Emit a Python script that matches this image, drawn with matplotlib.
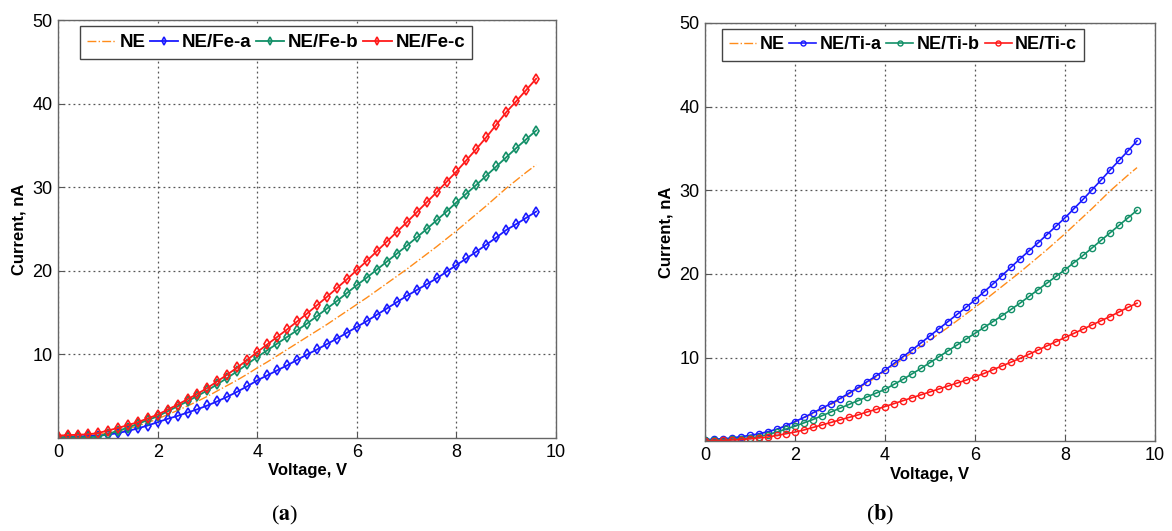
import numpy as np
import matplotlib
matplotlib.use("Agg")
import matplotlib.pyplot as plt

plt.rcParams['font.family'] = ['Liberation Sans', 'DejaVu Sans']
plt.rcParams['mathtext.fontset'] = 'stix'

# voltage steps (V)
voltage = [0.0, 0.2, 0.4, 0.6, 0.8, 1.0, 1.2, 1.4, 1.6, 1.8,
           2.0, 2.2, 2.4, 2.6, 2.8, 3.0, 3.2, 3.4, 3.6, 3.8,
           4.0, 4.2, 4.4, 4.6, 4.8, 5.0, 5.2, 5.4, 5.6, 5.8,
           6.0, 6.2, 6.4, 6.6, 6.8, 7.0, 7.2, 7.4, 7.6, 7.8,
           8.0, 8.2, 8.4, 8.6, 8.8, 9.0, 9.2, 9.4, 9.6]

# current (nA), plain NE sample - same in both panels
ne = [0.1, 0.1, 0.2, 0.3, 0.45, 0.6, 0.85, 1.1, 1.45, 1.85,
      2.3, 2.8, 3.3, 3.85, 4.4, 5.0, 5.65, 6.3, 6.95, 7.65,
      8.4, 9.1, 9.85, 10.6, 11.35, 12.1, 12.85, 13.6, 14.4, 15.2,
      16.0, 16.8, 17.65, 18.5, 19.35, 20.2, 21.1, 22.0, 22.9, 23.85,
      24.8, 25.8, 26.8, 27.8, 28.85, 29.9, 30.85, 31.8, 32.7]

# panel (a)
fe_a = [0.0, 0.2, 0.2, 0.25, 0.3, 0.4, 0.6, 0.85, 1.15, 1.5,
        1.9, 2.3, 2.65, 3.05, 3.45, 3.9, 4.4, 4.95, 5.55, 6.2,
        6.9, 7.5, 8.1, 8.7, 9.35, 10.0, 10.6, 11.25, 11.9, 12.6,
        13.3, 14.0, 14.75, 15.5, 16.25, 17.0, 17.7, 18.4, 19.1, 19.9,
        20.7, 21.5, 22.3, 23.15, 24.0, 24.9, 25.6, 26.35, 27.1]
fe_b = [0.1, 0.1, 0.1, 0.1, 0.15, 0.5, 0.85, 1.25, 1.7, 2.15,
        2.6, 3.2, 3.8, 4.4, 5.05, 5.7, 6.45, 7.2, 8.0, 8.85,
        9.7, 10.5, 11.3, 12.1, 12.9, 13.7, 14.6, 15.5, 16.4, 17.35,
        18.3, 19.2, 20.15, 21.1, 22.05, 23.0, 24.0, 25.0, 26.05, 27.1,
        28.2, 29.25, 30.3, 31.4, 32.5, 33.6, 34.7, 35.75, 36.8]
fe_c = [0.3, 0.35, 0.4, 0.45, 0.6, 0.9, 1.2, 1.55, 1.9, 2.35,
        2.8, 3.4, 4.0, 4.65, 5.3, 6.0, 6.8, 7.6, 8.45, 9.35,
        10.3, 11.2, 12.1, 13.0, 13.95, 14.9, 15.9, 16.9, 17.95, 19.0,
        20.1, 21.2, 22.35, 23.5, 24.65, 25.8, 27.0, 28.2, 29.4, 30.65,
        31.9, 33.25, 34.6, 36.0, 37.5, 39.0, 40.3, 41.65, 43.0]

# panel (b)
ti_a = [0.2, 0.25, 0.3, 0.4, 0.55, 0.7, 0.9, 1.15, 1.45, 1.85,
        2.35, 2.85, 3.4, 3.95, 4.5, 5.1, 5.75, 6.4, 7.1, 7.8,
        8.5, 9.3, 10.1, 10.9, 11.75, 12.6, 13.45, 14.3, 15.15, 16.0,
        16.9, 17.85, 18.8, 19.8, 20.8, 21.8, 22.75, 23.7, 24.7, 25.7,
        26.7, 27.8, 28.9, 30.05, 31.2, 32.4, 33.55, 34.7, 35.9]
ti_b = [0.1, 0.15, 0.2, 0.25, 0.3, 0.4, 0.55, 0.8, 1.1, 1.45,
        1.8, 2.2, 2.6, 3.05, 3.5, 3.95, 4.4, 4.85, 5.3, 5.75,
        6.2, 6.8, 7.4, 8.05, 8.7, 9.4, 10.1, 10.8, 11.5, 12.2,
        12.9, 13.6, 14.3, 15.0, 15.75, 16.5, 17.3, 18.1, 18.9, 19.7,
        20.5, 21.35, 22.2, 23.1, 24.0, 24.9, 25.8, 26.7, 27.6]
ti_c = [0.0, 0.05, 0.1, 0.15, 0.2, 0.3, 0.4, 0.5, 0.7, 0.9,
        1.1, 1.35, 1.65, 1.95, 2.25, 2.55, 2.85, 3.15, 3.5, 3.8,
        4.15, 4.5, 4.85, 5.2, 5.55, 5.9, 6.25, 6.6, 6.95, 7.3,
        7.7, 8.1, 8.55, 9.0, 9.45, 9.9, 10.4, 10.9, 11.4, 11.9,
        12.4, 12.9, 13.4, 13.9, 14.4, 14.9, 15.45, 16.0, 16.5]

orange = '#FF8C1A'
blue = '#1A1AFF'
green = '#139068'
red = '#FF1A1A'

fig = plt.figure(figsize=(11.72, 5.31), dpi=100)
ax1 = fig.add_axes([0.0495, 0.175, 0.425, 0.787])
ax2 = fig.add_axes([0.6015, 0.169, 0.384, 0.788])


def style_axes(ax):
    ax.set_xlim(0, 10)
    ax.set_ylim(0, 50)
    ax.set_xticks([0, 2, 4, 6, 8, 10])
    ax.set_yticks([10, 20, 30, 40, 50])
    ax.grid(True, linestyle=(0, (1.5, 2.5)), color='#555555', linewidth=0.9)
    ax.tick_params(direction='in', length=4, labelsize=13, color='#555555', pad=4)
    for sp in ax.spines.values():
        sp.set_color('#666666')
        sp.set_linewidth(1.0)
    ax.set_xlabel('Voltage, V', fontsize=12, fontweight='bold', labelpad=2)
    ax.set_ylabel('Current, nA', fontsize=12, fontweight='bold', labelpad=4)


# (a) Fe samples
ax1.plot(voltage, ne, color=orange, linestyle='-.', linewidth=1.0, label='NE')
ax1.plot(voltage, fe_a, color=blue, marker='d', markersize=5, markerfacecolor='none',
         markeredgewidth=1.2, linewidth=1.3, label='NE/Fe-a')
ax1.plot(voltage, fe_b, color=green, marker='d', markersize=5, markerfacecolor='none',
         markeredgewidth=1.2, linewidth=1.3, label='NE/Fe-b')
ax1.plot(voltage, fe_c, color=red, marker='d', markersize=5, markerfacecolor='none',
         markeredgewidth=1.2, linewidth=1.3, label='NE/Fe-c')
style_axes(ax1)

# (b) Ti samples
ax2.plot(voltage, ne, color=orange, linestyle='-.', linewidth=1.0, label='NE')
ax2.plot(voltage, ti_a, color=blue, marker='o', markersize=4.5, markerfacecolor='none',
         markeredgewidth=1.0, linewidth=1.2, label='NE/Ti-a')
ax2.plot(voltage, ti_b, color=green, marker='o', markersize=4.5, markerfacecolor='none',
         markeredgewidth=1.0, linewidth=1.2, label='NE/Ti-b')
ax2.plot(voltage, ti_c, color=red, marker='o', markersize=4.5, markerfacecolor='none',
         markeredgewidth=1.0, linewidth=1.2, label='NE/Ti-c')
style_axes(ax2)

for ax, cx, fs in ((ax1, 0.438, 13.5), (ax2, 0.44, 13.0)):
    leg = ax.legend(loc='upper center', bbox_to_anchor=(cx, 0.985), ncol=4,
                    prop={'weight': 'bold', 'size': fs},
                    handlelength=1.5, handletextpad=0.2, columnspacing=0.25,
                    borderpad=0.4, borderaxespad=0, fancybox=False, framealpha=1,
                    edgecolor='#444444', markerscale=0.8)
    leg.get_frame().set_linewidth(1.0)

fig.text(0.243, 0.02, r'($\mathbf{a}$)', fontsize=16, ha='center', family='Liberation Serif')
fig.text(0.751, 0.02, r'($\mathbf{b}$)', fontsize=16, ha='center', family='Liberation Serif')

fig.savefig('out.png', dpi=100)
